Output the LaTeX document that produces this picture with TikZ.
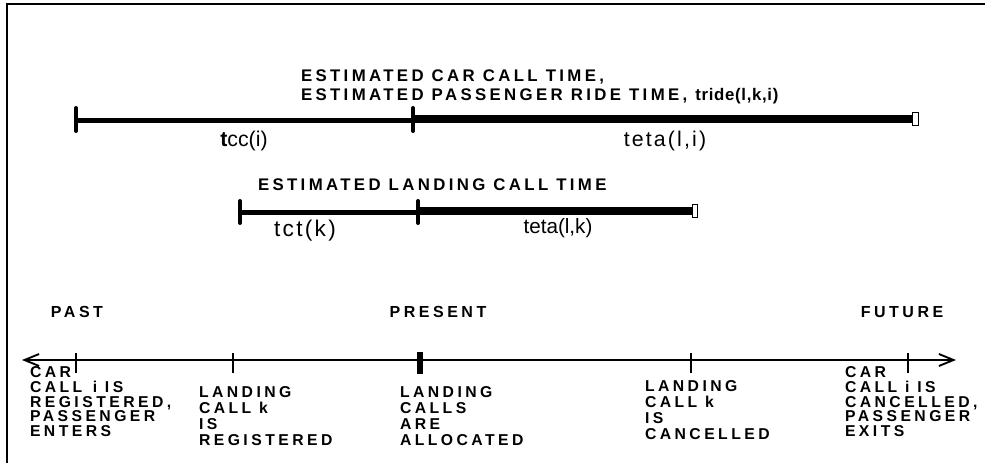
\documentclass[tikz,border=0pt]{standalone}
\usepackage{fontspec}
\setmainfont{Liberation Sans}
\newfontfamily\capfont[LetterSpace=22]{Liberation Sans}
\newfontfamily\headfont[LetterSpace=20]{Liberation Sans}
\newfontfamily\symfont[LetterSpace=10]{Liberation Sans}
\usetikzlibrary{arrows.meta}

\begin{document}
\begin{tikzpicture}[
    x=0.75pt, y=-0.75pt,
    every node/.style={inner sep=0pt, outer sep=0pt},
    heading/.style={
        font=\headfont\bfseries\fontsize{12.6}{14}\selectfont,
        align=left,
        anchor=north west
    },
    caption/.style={
        font=\capfont\bfseries\fontsize{11.8}{#1}\selectfont,
        align=left,
        anchor=north west
    },
    caption/.default=10.9,
    era/.style={font=\capfont\bfseries\fontsize{12}{13}\selectfont},
    symlabel/.style={font=\symfont\fontsize{16}{18}\selectfont},
    thinbar/.style={line width=3.4pt},
    thickbar/.style={line width=5.6pt},
    bartick/.style={line width=3pt, line cap=round},
    axistick/.style={line width=2.2pt},
    barend/.style={draw=black, fill=white, line width=0.6pt}
]
\useasboundingbox (0,0) rectangle (985,463);

% ---------- frame (top and left edges only) ----------
\coordinate (frameBL) at (7,463);
\coordinate (frameTL) at (7,4);
\coordinate (frameTR) at (985,4);
\draw[line width=1pt] (frameBL) -- (frameTL) -- (frameTR);

% ---------- car call bar ----------
\node[heading] (carhead) at (301,70) {ESTIMATED CAR CALL TIME,\\
    ESTIMATED PASSENGER RIDE TIME, {\addfontfeature{LetterSpace=4}tride(l,k,i)}};
\coordinate (ccstart) at (76,120.5);
\coordinate (ccmid)   at (413,120.5);
\coordinate (ccmidB)  at (413,119);
\coordinate (ccend)   at (912,119);
\draw[thinbar]  (ccstart) -- (ccmid);
\draw[thickbar] (ccmidB) -- (ccend);
\foreach \x in {76,413}{
    \draw[bartick] (\x,108) -- (\x,131);
}
\draw[barend] (912,112.5) rectangle (918.5,125);
\node[font=\fontsize{16}{18}\selectfont] (tcc) at (244,141) {\textbf{t}cc(i)};
\node[symlabel] (tetali) at (665,141) {teta(l,i)};

% ---------- landing call bar ----------
\node[heading] (lchead) at (258,179) {ESTIMATED LANDING CALL TIME};
\coordinate (lcstart) at (240,212.5);
\coordinate (lcmid)   at (418,212.5);
\coordinate (lcmidB)  at (418,211);
\coordinate (lcend)   at (692,211);
\draw[thinbar]  (lcstart) -- (lcmid);
\draw[thickbar] (lcmidB) -- (lcend);
\foreach \x in {240,418}{
    \draw[bartick] (\x,201) -- (\x,223);
}
\draw[barend] (692,204) rectangle (697,217);
\node[font=\symfont\fontsize{17}{19}\selectfont] (tct) at (305,231) {tct(k)};
\node[font=\fontsize{15.5}{17}\selectfont] (tetalk) at (558,228) {teta(l,k)};

% ---------- time axis ----------
\node[era] (past)    at (77,312)  {PAST};
\node[era] (present) at (438,312) {PRESENT};
\node[era] (future)  at (902,312) {FUTURE};
\coordinate (axleft)  at (22,360);
\coordinate (axright) at (956,360);
\draw[line width=2.2pt,
      {Straight Barb[length=11pt,width=9pt,line width=1.4pt]}-{Straight Barb[length=11pt,width=9pt,line width=1.4pt]}]
      (axleft) -- (axright);
\foreach \x in {76,233,691,908}{
    \draw[axistick] (\x,353) -- (\x,373);
}
\draw[line width=4.2pt] (420,352) -- (420,374);

% event captions under the axis
\node[caption] (carreg)   at (30,367)  {CAR\\CALL\, i IS\\REGISTERED,\\PASSENGER\\ENTERS};
\node[caption=11.8] (lcreg)   at (199,387) {LANDING\\CALL k\\IS\\REGISTERED};
\node[caption=11.8] (lcalloc) at (400,387) {LANDING\\CALLS\\ARE\\ALLOCATED};
\node[caption=11.8] (lccanc)  at (645,381) {LANDING\\CALL k\\IS\\CANCELLED};
\node[caption] (carcanc)  at (845,367) {CAR\\CALL i IS\\CANCELLED,\\PASSENGER\\EXITS};

\end{tikzpicture}
\end{document}
